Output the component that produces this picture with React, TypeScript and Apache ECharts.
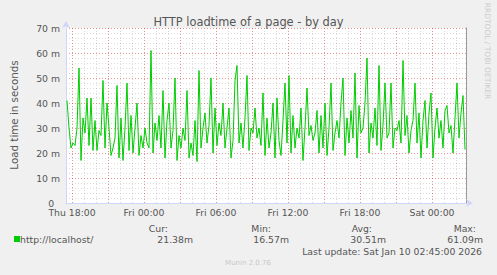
import React, { useEffect, useRef } from 'react';
import * as echarts from 'echarts';

// Hours relative to Thu 18:00; samples every 10 minutes, first at Thu 17:35
const START_HOUR = -25 / 60;
const STEP_HOURS = 10 / 60;

// Load time (milliseconds)
const loadMs: number[] = [
  41, 30, 22, 24, 23, 30, 54, 17, 34, 28,
  42, 23, 42, 21, 33, 21, 29, 27, 49, 22,
  40, 30, 19, 22, 26, 47, 18, 34, 17, 30,
  48, 21, 35, 20, 30, 40, 19, 27, 22, 30,
  24, 22, 61, 20, 32, 25, 35, 22, 45, 18,
  33, 40, 22, 29, 50, 17, 27, 22, 30, 25,
  45, 18, 24, 19, 33, 16.6, 53, 22, 30, 36,
  24, 31, 50, 20, 38, 23, 32, 27, 40, 22,
  30, 38, 18, 25, 49, 55, 24, 32, 22, 34,
  51, 21, 30, 28, 38, 26, 30, 23, 44, 19,
  34, 22, 28, 40, 18, 42, 25, 19, 33, 48,
  24, 51, 20, 35, 22, 30, 26, 38, 17, 30,
  46, 27, 31, 25, 28, 37, 20, 35, 22, 40,
  19, 30, 48, 21, 28, 33, 26, 40, 50, 19,
  34, 24, 37, 26, 52, 18, 39, 28, 30, 40,
  58, 20, 32, 26, 38, 23, 55, 21, 31, 48,
  26, 28, 48, 22, 30, 29, 33, 24, 57, 27,
  35, 20, 29, 33, 48, 24, 36, 18, 33, 41,
  22, 36, 44, 18, 30, 38, 26, 33, 22, 37,
  39, 28, 31, 20, 34, 48, 26, 36, 43, 21.38,
];

const xLabelHours = [0, 6, 12, 18, 24, 30];
const xLabelTexts = ['Thu 18:00', 'Fri 00:00', 'Fri 06:00', 'Fri 12:00', 'Fri 18:00', 'Sat 00:00'];
const majorGridHours = [0, 3, 6, 9, 12, 15, 18, 21, 24, 27, 30];
const minorGridHours = [0, 1, 2, 3, 4, 5, 6, 7, 8, 9, 10, 11, 12, 13, 14, 15, 16, 17, 18, 19, 20, 21, 22, 23, 24, 25, 26, 27, 28, 29, 30, 31, 32];

const titleText = 'HTTP loadtime of a page - by day';
const yAxisTitle = 'Load time in seconds';
const seriesName = 'http://localhost/';
const statLabels = ['Cur:', 'Min:', 'Avg:', 'Max:'];
const statValues = ['21.38m', '16.57m', '30.51m', '61.09m'];
const lastUpdate = 'Last update: Sat Jan 10 02:45:00 2026';
const footer = 'Munin 2.0.76';
const sideNote = 'RRDTOOL / TOBI OETIKER';

const FONT = 'DejaVu Sans';
const TEXT = '#555555';

export default function App() {
  const ref = useRef<HTMLDivElement>(null);
  useEffect(() => {
    if (!ref.current) return;
    const chart = echarts.init(ref.current, null, { renderer: 'svg' });
    const data = loadMs.map((v, i) => [START_HOUR + i * STEP_HOURS, v]);
    const xMin = -0.5;
    const xMax = 32 + 5 / 6;
    const labelRights = [168, 271, 372, 476];
    const valueRights = [193, 289, 386, 483];

    const statTexts: any[] = [];
    statLabels.forEach((t, i) => {
      statTexts.push({
        type: 'text', x: labelRights[i], y: 228,
        style: { text: t, fill: TEXT, font: `9.3px "${FONT}"`, textAlign: 'right', textVerticalAlign: 'middle' },
      });
      statTexts.push({
        type: 'text', x: valueRights[i], y: 239,
        style: { text: statValues[i], fill: TEXT, font: `9.3px "${FONT}"`, textAlign: 'right', textVerticalAlign: 'middle' },
      });
    });

    const minorLine = { show: true, lineStyle: { color: 'rgba(128,128,128,0.28)', type: [1, 2], width: 1 } };
    const majorLine = { show: true, lineStyle: { color: 'rgba(255,0,0,0.32)', type: [1, 2], width: 1 } };

    const hiddenAxisBase = {
      type: 'value',
      position: 'bottom',
      min: xMin,
      max: xMax,
      axisLine: { show: false },
      axisLabel: { show: false },
    };

    chart.setOption({
      animation: false,
      backgroundColor: '#F0F0F0',
      textStyle: { fontFamily: FONT },
      title: {
        text: titleText,
        left: 'center',
        top: 16,
        padding: 0,
        textStyle: { fontFamily: FONT, fontSize: 11.4, fontWeight: 'normal', color: TEXT },
      },
      grid: {
        left: 66, right: 31, top: 28, bottom: 72,
        show: true, backgroundColor: '#FFFFFF', borderWidth: 0,
      },
      xAxis: [
        { ...hiddenAxisBase, axisTick: { show: false, customValues: minorGridHours }, splitLine: minorLine },
        { ...hiddenAxisBase, axisTick: { show: false, customValues: majorGridHours }, splitLine: majorLine },
        {
          type: 'value',
          position: 'bottom',
          min: xMin,
          max: xMax,
          axisLine: {
            show: true, onZero: false, symbol: ['none', 'arrow'], symbolSize: [6, 7], symbolOffset: [0, 7],
            lineStyle: { color: '#CFD6F8', width: 1 },
          },
          axisTick: { show: false, customValues: xLabelHours },
          axisLabel: {
            show: true,
            customValues: xLabelHours,
            formatter: (v: number) => xLabelTexts[xLabelHours.indexOf(v)] ?? '',
            color: TEXT, fontFamily: FONT, fontSize: 9.3, margin: 5,
          },
          splitLine: { show: false },
        },
      ],
      yAxis: [
        {
          type: 'value', position: 'left', min: 0, max: 70, interval: 2,
          axisLine: { show: false }, axisTick: { show: false }, axisLabel: { show: false },
          splitLine: minorLine,
        },
        {
          type: 'value', position: 'right', min: 0, max: 70,
          axisLine: { show: true, onZero: false, lineStyle: { color: '#999999', width: 1 } },
          axisTick: { show: false }, axisLabel: { show: false }, splitLine: { show: false },
        },
        {
          type: 'value', position: 'left', min: 0, max: 70, interval: 10,
          axisLine: {
            show: true, onZero: false, symbol: ['none', 'arrow'], symbolSize: [6, 7], symbolOffset: [0, 7],
            lineStyle: { color: '#CFD6F8', width: 1 },
          },
          axisTick: { show: false },
          axisLabel: {
            formatter: (v: number) => (v === 0 ? '0\u2007' : `${v} m`),
            color: TEXT, fontFamily: FONT, fontSize: 9.3, margin: 6,
          },
          splitLine: majorLine,
        },
      ],
      series: [
        {
          name: seriesName,
          type: 'line',
          xAxisIndex: 2,
          yAxisIndex: 2,
          data,
          showSymbol: false,
          smooth: false,
          lineStyle: { color: '#00CC00', width: 1 },
          itemStyle: { color: '#00CC00' },
          z: 5,
        },
      ],
      graphic: [
        {
          type: 'text', x: 14, y: 115, rotation: Math.PI / 2,
          style: { text: yAxisTitle, fill: TEXT, font: `10.3px "${FONT}"`, textAlign: 'center', textVerticalAlign: 'middle' },
        },
        {
          type: 'rect', shape: { x: 14, y: 236, width: 6, height: 6 },
          style: { fill: '#00CC00' },
        },
        {
          type: 'text', x: 20, y: 239,
          style: { text: seriesName, fill: TEXT, font: `9.3px "${FONT}"`, textAlign: 'left', textVerticalAlign: 'middle' },
        },
        ...statTexts,
        {
          type: 'text', x: 482, y: 251,
          style: { text: lastUpdate, fill: TEXT, font: `9.3px "${FONT}"`, textAlign: 'right', textVerticalAlign: 'middle' },
        },
        {
          type: 'text', x: 248, y: 263,
          style: { text: footer, fill: '#C8C8C8', font: `7px "${FONT}"`, textAlign: 'center', textVerticalAlign: 'middle' },
        },
        {
          type: 'text', x: 487, y: 51, rotation: -Math.PI / 2,
          style: { text: sideNote, fill: '#CCCCCC', font: `7.5px "${FONT}"`, textAlign: 'center', textVerticalAlign: 'middle' },
        },
      ],
    });
    return () => chart.dispose();
  }, []);
  return <div ref={ref} style={{ position: 'absolute', left: 0, top: 0, width: 497, height: 275 }} />;
}
